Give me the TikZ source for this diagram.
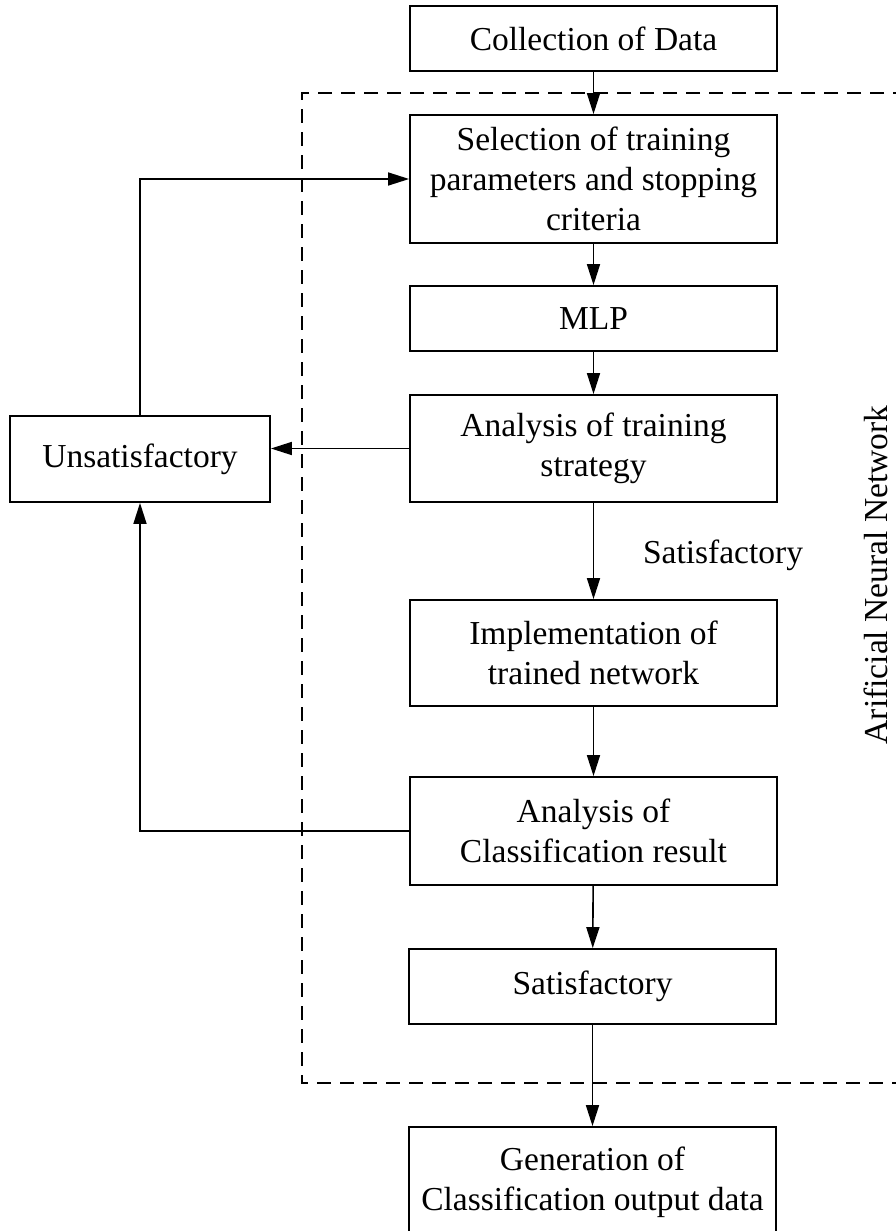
\documentclass[tikz,border=0pt]{standalone}
\usepackage{fontspec}
\setmainfont{Liberation Serif}
\usetikzlibrary{arrows.meta}
\tikzset{
  box/.style={draw, line width=1.8pt, minimum width=367pt, inner sep=0pt, align=center,
    font={\fontsize{33.5}{40}\selectfont}},
  lbl/.style={inner sep=0pt, font={\fontsize{33.5}{40}\selectfont}},
  arr/.style={line width=1.6pt, -{Triangle[length=21pt,width=13pt]}},
  frame/.style={line width=1.6pt, dash pattern=on 14pt off 9pt}
}
\begin{document}
\begin{tikzpicture}[x=1pt,y=-1pt]
\useasboundingbox (0,0) rectangle (896,1231);
\clip (0,0) rectangle (896,1231);
\fill[white] (0,0) rectangle (896,1231);
\draw[frame] (930,93) -- (302,93) -- (302,1083) -- (930,1083);
\node[box, minimum height=65pt] (col) at (593.5,38.5) {Collection of Data};
\node[box, minimum height=128pt] (sel) at (593.5,179) {Selection of training\\parameters and stopping\\criteria};
\node[box, minimum height=65pt] (mlp) at (593.5,318.5) {MLP};
\node[box, minimum height=107pt] (ats) at (593.5,448.5) {Analysis of training\\strategy};
\node[box, minimum width=260pt, minimum height=86pt] (uns) at (140,459) {Unsatisfactory};
\node[box, minimum height=106pt] (imp) at (593.5,653) {Implementation of\\trained network};
\node[box, minimum height=108pt] (acr) at (593.5,831) {Analysis of\\Classification result};
\node[box, minimum height=75pt] (sat) at (592.5,986.5) {Satisfactory};
\node[box, minimum height=110pt] (gen) at (592.5,1182) {Generation of\\Classification output data};
\node[lbl, anchor=base] (slbl) at (723,563) {Satisfactory};
\node[lbl, anchor=base, rotate=90] (ann) at (887,575) {Arificial Neural Network};
\draw[arr] (col) -- (sel);
\draw[arr] (sel) -- (mlp);
\draw[arr] (mlp) -- (ats);
\draw[arr] (ats) -- (imp);
\draw[arr] (imp) -- (acr);
\draw[arr] (acr) -- (sat);
\draw[arr] (sat) -- (gen);
\draw[arr] (ats.west) -- (ats.west -| uns.east);
\draw[arr] (uns.north) |- (sel.west);
\draw[arr] (acr.west) -| (uns.south);
\end{tikzpicture}
\end{document}
